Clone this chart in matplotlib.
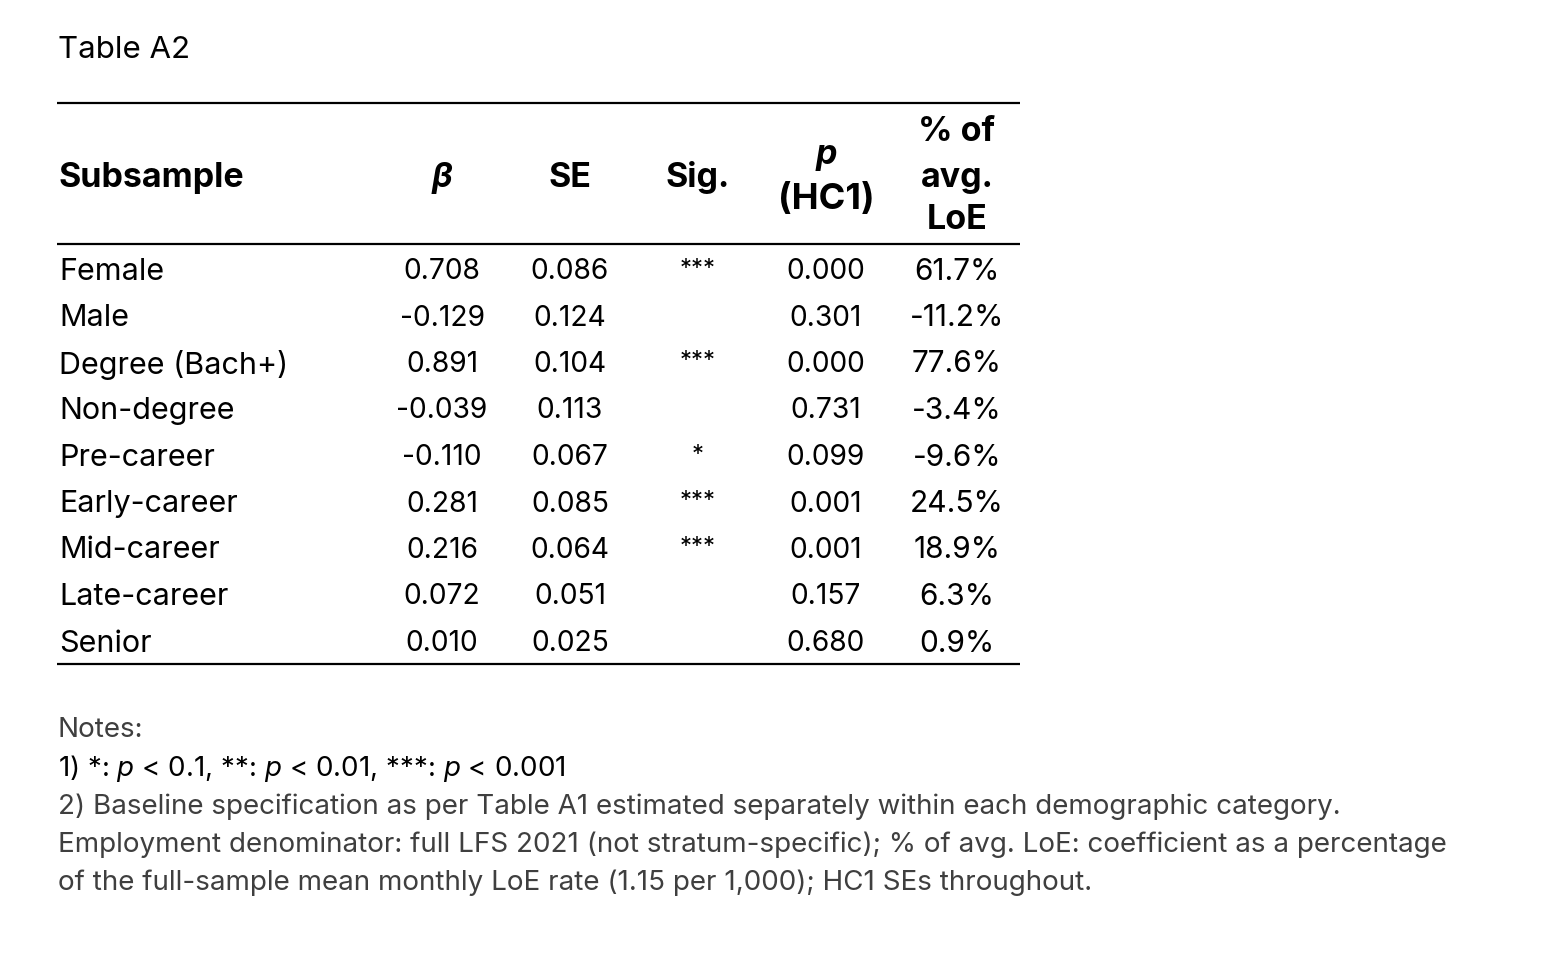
import matplotlib.pyplot as plt

plt.rcParams['font.family'] = ['Inter', 'DejaVu Sans']
plt.rcParams['mathtext.fontset'] = 'custom'
plt.rcParams['mathtext.rm'] = 'Inter'
plt.rcParams['mathtext.it'] = 'Inter:italic'

subsamples = ["Female", "Male", "Degree (Bach+)", "Non-degree", "Pre-career",
              "Early-career", "Mid-career", "Late-career", "Senior"]
beta = ["0.708", "-0.129", "0.891", "-0.039", "-0.110", "0.281", "0.216", "0.072", "0.010"]
se = ["0.086", "0.124", "0.104", "0.113", "0.067", "0.085", "0.064", "0.051", "0.025"]
sig = ["***", "", "***", "", "*", "***", "***", "", ""]
pval = ["0.000", "0.301", "0.000", "0.731", "0.099", "0.001", "0.001", "0.157", "0.680"]
pct = ["61.7%", "-11.2%", "77.6%", "-3.4%", "-9.6%", "24.5%", "18.9%", "6.3%", "0.9%"]

notes = [
    "2) Baseline specification as per Table A1 estimated separately within each demographic category.",
    "Employment denominator: full LFS 2021 (not stratum-specific); % of avg. LoE: coefficient as a percentage",
    "of the full-sample mean monthly LoE rate (1.15 per 1,000); HC1 SEs throughout.",
]

fig = plt.figure(figsize=(15.54, 9.64), dpi=100)
ax = fig.add_axes([0, 0, 1, 1])
ax.set_xlim(0, 1554)
ax.set_ylim(964, 0)
ax.axis('off')

label_fs = 22
num_fs = 20.3
pct_fs = 21.5
head_fs = 24.5
col_x = [442, 570, 698, 826, 957]

ax.text(58, 50, "Table A2", fontsize=22.5, va='center', ha='left')

# rules
for y in [103, 244, 664]:
    ax.plot([57, 1020], [y, y], color='black', lw=1.6, solid_capstyle='butt')

# header
ax.text(59, 178, "Subsample", fontsize=head_fs, weight='bold', va='center')
ax.text(col_x[0], 178, "β", fontsize=head_fs, weight='bold', style='italic', va='center', ha='center')
ax.text(col_x[1], 178, "SE", fontsize=head_fs, weight='bold', va='center', ha='center')
ax.text(col_x[2], 178, "Sig.", fontsize=head_fs, weight='bold', va='center', ha='center')
ax.text(col_x[3], 155, "p", fontsize=head_fs, weight='bold', style='italic', va='center', ha='center')
ax.text(col_x[3], 199, "(HC1)", fontsize=head_fs + 1.5, weight='bold', va='center', ha='center')
ax.text(col_x[4], 132, "% of", fontsize=head_fs, weight='bold', va='center', ha='center')
ax.text(col_x[4], 178, "avg.", fontsize=head_fs, weight='bold', va='center', ha='center')
ax.text(col_x[4], 220, "LoE", fontsize=head_fs, weight='bold', va='center', ha='center')

row_y0 = 271.5
row_h = 46.5
for i, name in enumerate(subsamples):
    y = row_y0 + i * row_h
    ax.text(59, y, name, fontsize=label_fs, va='center')
    ax.text(col_x[0], y, beta[i], fontsize=num_fs, va='center', ha='center')
    ax.text(col_x[1], y, se[i], fontsize=num_fs, va='center', ha='center')
    ax.text(col_x[2], y - 3, sig[i], fontsize=num_fs - 3, va='center', ha='center')
    ax.text(col_x[3], y, pval[i], fontsize=num_fs, va='center', ha='center')
    ax.text(col_x[4], y, pct[i], fontsize=pct_fs, va='center', ha='center')

grey = '#3f3f3f'
nfs = 20
ax.text(58, 730, "Notes:", fontsize=nfs, color=grey, va='center')
ax.text(58, 769, r"1) *: $\mathit{p}$ < 0.1, **: $\mathit{p}$ < 0.01, ***: $\mathit{p}$ < 0.001",
        fontsize=nfs, color='black', va='center')
for j, line in enumerate(notes):
    ax.text(58, 807 + j * 38, line, fontsize=nfs, color=grey, va='center')

fig.savefig("out.png", dpi=100)
